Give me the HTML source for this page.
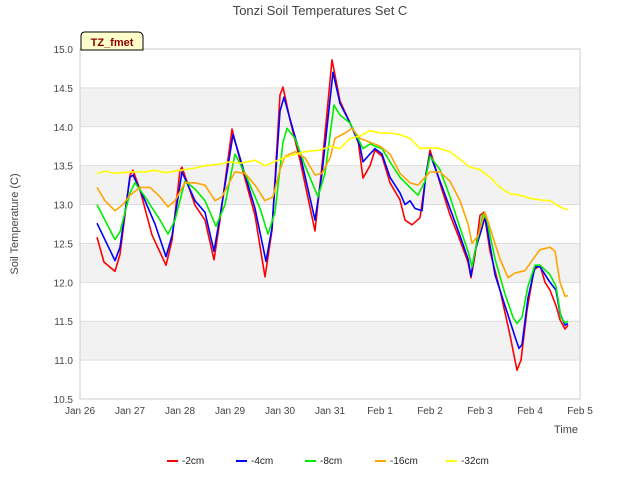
<!DOCTYPE html>
<html><head><meta charset="utf-8"><style>
body{margin:0;background:#fff;font-family:"Liberation Sans",sans-serif;}
svg text{font-family:"Liberation Sans",sans-serif;}
</style></head><body>
<svg id="chart" width="640" height="480">
<text x="320" y="15" text-anchor="middle" font-size="13" fill="#444">Tonzi Soil Temperatures Set C</text>
<g id="bands"></g><g id="grid"></g><g id="axes"></g><g id="series"></g>
<text x="18" y="224" transform="rotate(-90 18 224)" text-anchor="middle" font-size="11" fill="#444">Soil Temperature (C)</text>
<text x="566" y="433" text-anchor="middle" font-size="11" fill="#444">Time</text>
<g>
<path d="M81,50 L81,36 Q81,32 85,32 L138,32 Q142,32 143,36 L143,50 Z" fill="#ffffcc" stroke="#000" stroke-width="1"/>
<text x="112" y="46" text-anchor="middle" font-size="11" font-weight="bold" fill="#8b0000">TZ_fmet</text>
</g>
<g id="legend"></g>
</svg>
<script>
const yTicks=[10.5,11,11.5,12,12.5,13,13.5,14,14.5,15];
const xTickLabels=["Jan 26","Jan 27","Jan 28","Jan 29","Jan 30","Jan 31","Feb 1","Feb 2","Feb 3","Feb 4","Feb 5"];
const seriesNames=["-2cm","-4cm","-8cm","-16cm","-32cm"];
const seriesColors=["#ff0000","#0000ff","#00ee00","#ffa500","#ffff00"];
const s2cm=[[0.34,12.58],[0.48,12.26],[0.70,12.14],[0.80,12.36],[1.00,13.38],[1.06,13.44],[1.20,13.19],[1.44,12.61],[1.72,12.22],[1.84,12.54],[2.00,13.44],[2.04,13.48],[2.30,12.99],[2.50,12.80],[2.68,12.29],[2.80,12.80],[3.04,13.97],[3.20,13.57],[3.50,12.86],[3.70,12.07],[3.84,12.67],[4.00,14.41],[4.06,14.51],[4.20,14.09],[4.40,13.57],[4.70,12.66],[4.84,13.50],[5.04,14.86],[5.12,14.60],[5.20,14.33],[5.40,14.05],[5.56,13.83],[5.66,13.34],[5.80,13.50],[5.90,13.70],[6.04,13.62],[6.20,13.28],[6.40,13.06],[6.50,12.80],[6.64,12.74],[6.80,12.83],[6.92,13.38],[7.00,13.70],[7.12,13.45],[7.24,13.19],[7.40,12.87],[7.60,12.54],[7.76,12.26],[7.82,12.06],[7.90,12.35],[8.00,12.86],[8.08,12.90],[8.20,12.40],[8.40,11.90],[8.60,11.32],[8.70,11.00],[8.74,10.87],[8.82,11.00],[8.94,11.64],[9.08,12.16],[9.20,12.22],[9.30,12.00],[9.40,11.90],[9.52,11.70],[9.60,11.52],[9.70,11.40],[9.76,11.45]];
const s4cm=[[0.34,12.76],[0.70,12.28],[0.80,12.45],[1.00,13.35],[1.06,13.38],[1.30,13.05],[1.50,12.75],[1.72,12.33],[1.84,12.60],[2.04,13.42],[2.30,13.05],[2.50,12.90],[2.68,12.40],[2.80,12.85],[3.06,13.90],[3.20,13.60],[3.50,12.95],[3.72,12.27],[3.84,12.70],[4.00,14.20],[4.08,14.38],[4.20,14.10],[4.40,13.65],[4.70,12.80],[4.84,13.40],[5.06,14.70],[5.20,14.30],[5.40,14.05],[5.60,13.75],[5.66,13.55],[5.80,13.65],[5.90,13.72],[6.04,13.65],[6.20,13.35],[6.40,13.15],[6.50,13.00],[6.60,13.05],[6.70,12.95],[6.84,12.92],[6.92,13.40],[7.00,13.65],[7.20,13.30],[7.40,12.95],[7.60,12.60],[7.76,12.30],[7.82,12.08],[7.90,12.40],[8.04,12.70],[8.10,12.85],[8.30,12.10],[8.50,11.70],[8.70,11.30],[8.78,11.15],[8.84,11.20],[8.96,11.80],[9.10,12.20],[9.20,12.20],[9.40,12.00],[9.52,11.90],[9.60,11.60],[9.70,11.45],[9.76,11.47]];
const s8cm=[[0.34,13.0],[0.70,12.55],[0.80,12.65],[1.00,13.15],[1.10,13.28],[1.30,13.10],[1.60,12.80],[1.76,12.62],[1.90,12.80],[2.10,13.30],[2.30,13.20],[2.50,13.05],[2.72,12.72],[2.90,13.00],[3.10,13.65],[3.30,13.40],[3.60,12.95],[3.76,12.62],[3.90,12.90],[4.06,13.80],[4.14,13.98],[4.30,13.85],[4.50,13.50],[4.76,13.10],[4.90,13.40],[5.08,14.28],[5.20,14.15],[5.40,14.05],[5.56,13.85],[5.66,13.72],[5.80,13.78],[5.90,13.75],[6.04,13.72],[6.20,13.55],[6.40,13.35],[6.60,13.22],[6.76,13.12],[6.90,13.30],[7.00,13.62],[7.20,13.45],[7.40,13.10],[7.60,12.70],[7.76,12.40],[7.84,12.20],[7.90,12.40],[8.06,12.88],[8.14,12.80],[8.30,12.30],[8.50,11.85],[8.66,11.55],[8.74,11.47],[8.84,11.55],[8.96,11.95],[9.10,12.22],[9.20,12.22],[9.40,12.10],[9.52,11.95],[9.62,11.55],[9.70,11.48],[9.76,11.50]];
const s16cm=[[0.34,13.22],[0.50,13.05],[0.70,12.92],[0.86,13.00],[1.00,13.12],[1.20,13.22],[1.40,13.22],[1.60,13.10],[1.76,12.97],[1.90,13.05],[2.10,13.28],[2.30,13.28],[2.50,13.25],[2.70,13.05],[2.84,13.10],[3.00,13.30],[3.10,13.42],[3.30,13.40],[3.50,13.25],[3.70,13.05],[3.86,13.10],[4.00,13.45],[4.10,13.62],[4.30,13.68],[4.50,13.60],[4.70,13.38],[4.84,13.40],[5.00,13.60],[5.10,13.85],[5.30,13.92],[5.44,13.98],[5.60,13.85],[5.80,13.80],[6.00,13.75],[6.20,13.65],[6.40,13.40],[6.60,13.28],[6.76,13.25],[6.90,13.35],[7.00,13.42],[7.20,13.42],[7.40,13.30],[7.60,13.05],[7.76,12.75],[7.84,12.50],[7.96,12.60],[8.10,12.90],[8.20,12.70],[8.40,12.30],[8.56,12.06],[8.70,12.12],[8.90,12.15],[9.04,12.28],[9.20,12.42],[9.40,12.45],[9.50,12.40],[9.60,12.00],[9.70,11.82],[9.76,11.83]];
const s32cm=[[0.34,13.40],[0.50,13.43],[0.70,13.40],[1.00,13.42],[1.30,13.42],[1.50,13.44],[1.70,13.41],[2.00,13.44],[2.30,13.47],[2.50,13.50],[2.80,13.52],[3.00,13.55],[3.20,13.53],[3.50,13.57],[3.70,13.50],[4.00,13.58],[4.20,13.63],[4.50,13.68],[4.80,13.70],[5.00,13.75],[5.20,13.72],[5.40,13.85],[5.60,13.88],[5.80,13.95],[6.00,13.92],[6.20,13.92],[6.40,13.90],[6.60,13.85],[6.80,13.72],[7.00,13.73],[7.20,13.72],[7.40,13.68],[7.60,13.58],[7.80,13.48],[8.00,13.45],[8.20,13.35],[8.40,13.22],[8.60,13.14],[8.80,13.12],[9.00,13.08],[9.20,13.06],[9.40,13.05],[9.60,12.97],[9.76,12.93]];
const allSeries=[s2cm,s4cm,s8cm,s16cm,s32cm];

const NS="http://www.w3.org/2000/svg";
const X0=80,X1=580,Y0=49,Y1=399,D0=0,D1=10,T0=10.5,T1=15;
const xs=d=>X0+(d-D0)/(D1-D0)*(X1-X0);
const ys=t=>Y1-(t-T0)/(T1-T0)*(Y1-Y0);
function mk(tag,attrs,parent){const e=document.createElementNS(NS,tag);for(const k in attrs)e.setAttribute(k,attrs[k]);parent.appendChild(e);return e;}
const bands=document.getElementById('bands'),grid=document.getElementById('grid'),axes=document.getElementById('axes'),ser=document.getElementById('series'),leg=document.getElementById('legend');
mk('rect',{x:X0,y:Y0,width:X1-X0,height:Y1-Y0,fill:'#fff'},bands);
for(let i=0;i<yTicks.length-1;i++){
  if(i%2===1){const b=mk('rect',{x:X0,y:ys(yTicks[i+1]),width:X1-X0,height:ys(yTicks[i])-ys(yTicks[i+1]),fill:'#f2f2f2'},bands);
  
  }
}
yTicks.forEach(t=>{
  const l=mk('line',{x1:X0,x2:X1,y1:ys(t),y2:ys(t),stroke:'#ddd','stroke-width':1},grid);
  
  
  const tx=mk('text',{x:X0-7,y:ys(t)+4,'text-anchor':'end','font-size':10,fill:'#444'},axes);
  tx.textContent=t.toFixed(1);
  
  
});
xTickLabels.forEach((s,i)=>{
  const tx=mk('text',{x:xs(i),y:Y1+15,'text-anchor':'middle','font-size':10,fill:'#444'},axes);
  tx.textContent=s;
  
  
});
const fr=mk('rect',{x:X0,y:Y0,width:X1-X0,height:Y1-Y0,fill:'none',stroke:'#ccc'},axes);


allSeries.forEach((pts,i)=>{
  const p=mk('polyline',{points:pts.map(q=>xs(q[0]).toFixed(1)+','+ys(q[1]).toFixed(1)).join(' '),fill:'none',stroke:seriesColors[i],'stroke-width':1.6,'stroke-linejoin':'round'},ser);
  
  
});
const legX=[167,236,305,375,446];
seriesNames.forEach((n,i)=>{
  const g=mk('g',{},leg);
  
  
  mk('line',{x1:legX[i],x2:legX[i]+11,y1:461,y2:461,stroke:seriesColors[i],'stroke-width':2},g);
  const t=mk('text',{x:legX[i]+15,y:464,'font-size':10,fill:'#222'},g);t.textContent=n;
});
</script>
</body></html>
